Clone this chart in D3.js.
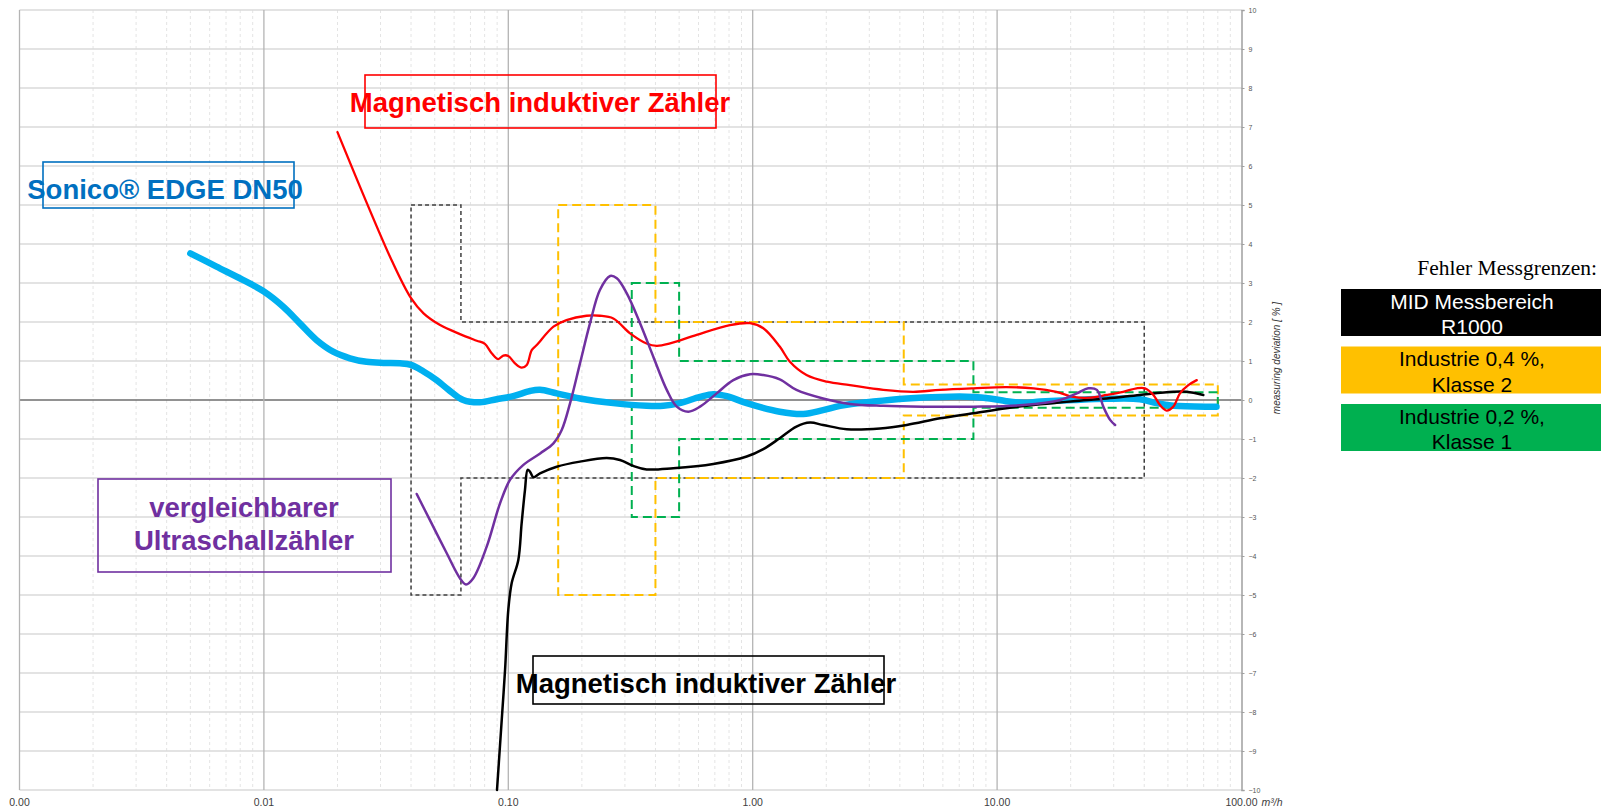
<!DOCTYPE html>
<html>
<head>
<meta charset="utf-8">
<script src="https://cdn.jsdelivr.net/npm/d3@7"></script>
<style>
  body { margin: 0; background: #fff; }
  svg { display: block; font-family: "Liberation Sans", Arial, sans-serif; }
</style>
</head>
<body>
<div id="chart"></div>
<script>
// ---------------------------------------------------------------------------
// data: flow [m3/h], measuring deviation [%]

var flowTicks = [0.001, 0.01, 0.1, 1, 10, 100];
var devTicks = d3.range(-10, 11);

var sonico = [[0.005,3.76],[0.0064,3.42],[0.0082,3.08],[0.01,2.78],[0.012,2.39],[0.014,1.97],
  [0.0164,1.54],[0.0192,1.24],[0.0225,1.07],[0.0263,0.98],[0.0308,0.95],[0.036,0.94],[0.04,0.90],
  [0.045,0.73],[0.0509,0.51],[0.057,0.26],[0.0654,0.0],[0.0766,-0.06],[0.0896,0.02],[0.1048,0.10],
  [0.1227,0.23],[0.1348,0.26],[0.1578,0.17],[0.1965,0.04],[0.269,-0.08],[0.368,-0.15],[0.431,-0.15],
  [0.503,-0.08],[0.609,0.08],[0.69,0.15],[0.783,0.10],[0.945,-0.08],[1.29,-0.30],[1.61,-0.36],
  [1.94,-0.26],[2.28,-0.15],[3.12,-0.04],[4.27,0.04],[5.84,0.08],[8.0,0.08],[9.35,0.04],[10.9,-0.03],
  [12.8,-0.07],[15.0,-0.04],[20.5,0],[28.1,0.03],[38.4,0.02],[45,-0.08],[52.6,-0.15],[79,-0.17]];

var midRed = [[0.02,6.87],[0.0335,3.55],[0.04,2.61],[0.045,2.22],[0.0526,1.92],
  [0.0634,1.69],[0.0743,1.52],[0.0802,1.44],[0.0855,1.20],[0.091,1.05],[0.0954,1.14],[0.1,1.13],
  [0.1065,0.94],[0.1134,0.83],[0.119,0.90],[0.1247,1.28],[0.1307,1.41],[0.153,1.88],[0.173,2.05],
  [0.209,2.16],[0.237,2.16],[0.269,2.09],[0.315,1.71],[0.368,1.45],[0.405,1.39],[0.459,1.45],
  [0.59,1.67],[0.807,1.92],[0.975,1.97],[1.105,1.84],[1.29,1.37],[1.42,0.98],[1.66,0.64],[2.01,0.47],
  [2.5,0.38],[3.42,0.26],[4.54,0.21],[5.84,0.26],[8.0,0.30],[10.9,0.33],[14.1,0.30],[17.5,0.21],
  [20.5,0.08],[24,0.06],[28.1,0.13],[32.8,0.21],[37.2,0.30],[40.3,0.30],[43.6,0.13],[46.4,-0.13],
  [49.4,-0.27],[52.6,-0.17],[56,0.17],[60.6,0.38],[65.6,0.51]];

var ultraschall = [[0.0422,-2.41],[0.0478,-3.08],[0.056,-3.93],[0.0634,-4.57],[0.0671,-4.73],
  [0.0719,-4.57],[0.0816,-3.76],[0.0925,-2.65],[0.1016,-2.05],[0.115,-1.67],[0.135,-1.37],[0.153,-1.11],
  [0.1654,-0.77],[0.179,-0.08],[0.1965,0.94],[0.216,1.97],[0.237,2.82],[0.261,3.18],[0.278,3.12],
  [0.305,2.74],[0.346,1.97],[0.392,1.11],[0.445,0.26],[0.489,-0.17],[0.545,-0.30],[0.609,-0.17],
  [0.712,0.17],[0.833,0.51],[0.975,0.66],[1.105,0.64],[1.29,0.53],[1.51,0.26],[1.94,0.04],[2.5,-0.10],
  [3.42,-0.15],[4.99,-0.17],[8.0,-0.17],[12.8,-0.13],[18.1,0],[21.2,0.17],[23.6,0.30],[25.6,0.26],
  [27.2,-0.17],[29,-0.51],[30.4,-0.64]];

var midBlack = [[0.0899,-10],[0.094,-8.2],[0.097,-6.92],[0.1,-5.38],[0.1032,-4.70],[0.1099,-4.10],
  [0.1134,-3.16],[0.117,-2.31],[0.12,-1.79],[0.1227,-1.84],[0.1266,-1.98],[0.1348,-1.88],[0.1578,-1.71],
  [0.1965,-1.58],[0.2527,-1.49],[0.2864,-1.54],[0.3247,-1.69],[0.368,-1.78],[0.473,-1.75],[0.69,-1.64],
  [0.945,-1.45],[1.105,-1.26],[1.29,-0.98],[1.51,-0.68],[1.716,-0.58],[1.94,-0.64],[2.425,-0.75],
  [3.32,-0.73],[4.27,-0.64],[5.84,-0.47],[8.0,-0.34],[10.9,-0.21],[15.0,-0.11],[20.5,-0.03],
  [28.1,0.04],[38.4,0.13],[52.6,0.21],[59.7,0.21],[69.8,0.13]];

// error limit envelopes
var limitMid = [[0.04,5],[0.064,5],[0.064,2],[40,2],[40,-2],[0.064,-2],[0.064,-5],[0.04,-5]];
var limitKl2 = [[0.16,5],[0.4,5],[0.4,2],[4.15,2],[4.15,0.4],[80,0.4],[80,-0.4],[4.15,-0.4],
  [4.15,-2],[0.4,-2],[0.4,-5],[0.16,-5]];
var limitKl1 = [[0.32,3],[0.5,3],[0.5,1],[8,1],[8,0.2],[80,0.2],[80,-0.2],[8,-0.2],[8,-1],
  [0.5,-1],[0.5,-3],[0.32,-3]];

var legendItems = [
  {lines: ["MID Messbereich", "R1000"], fill: "#000000", text: "#ffffff"},
  {lines: ["Industrie 0,4 %,", "Klasse 2"], fill: "#FFC000", text: "#000000"},
  {lines: ["Industrie 0,2 %,", "Klasse 1"], fill: "#00B050", text: "#000000"}
];

// ---------------------------------------------------------------------------
// scales

var xScale = d3.scaleLog().domain([0.001, 100]).range([19.5, 1241.5]);
var yScale = d3.scaleLinear().domain([-10, 10]).range([790, 10]);

var svg = d3.select("#chart").append("svg")
    .attr("width", 1601)
    .attr("height", 811);

svg.append("rect").attr("width", 1601).attr("height", 811).attr("fill", "#fff");

var grid = svg.append("g");

// minor vertical gridlines (2..9 of every decade)
var minor = [];
flowTicks.slice(0, -1).forEach(function(t) {
    for (var k = 2; k <= 9; k++) minor.push(t * k);
});
grid.selectAll(".minor").data(minor).enter().append("line")
    .attr("x1", function(d) { return xScale(d); })
    .attr("x2", function(d) { return xScale(d); })
    .attr("y1", yScale(10)).attr("y2", yScale(-10))
    .attr("stroke", "#e4e4e4").attr("stroke-width", 1)
    .attr("stroke-dasharray", "3,3");

// horizontal gridlines
grid.selectAll(".hgrid").data(devTicks).enter().append("line")
    .attr("x1", xScale(0.001)).attr("x2", xScale(100))
    .attr("y1", function(d) { return yScale(d); })
    .attr("y2", function(d) { return yScale(d); })
    .attr("stroke", function(d) { return d === 0 ? "#6e6e6e" : "#dadada"; })
    .attr("stroke-width", 1.5);

// major vertical gridlines
grid.selectAll(".major").data(flowTicks.slice(0, -1)).enter().append("line")
    .attr("x1", function(d) { return xScale(d); })
    .attr("x2", function(d) { return xScale(d); })
    .attr("y1", yScale(10)).attr("y2", yScale(-10))
    .attr("stroke", "#b4b4b4").attr("stroke-width", 1.3);

// right axis
var yAxis = d3.axisRight(yScale).tickValues(devTicks).tickSize(3).tickPadding(4)
    .tickFormat(d3.format("d"));
var yAxisG = svg.append("g")
    .attr("transform", "translate(" + xScale(100) + ",0)")
    .call(yAxis);
yAxisG.select(".domain").attr("stroke", "#a0a0a0").attr("stroke-width", 1.5);
yAxisG.selectAll(".tick line").attr("stroke", "#a0a0a0");
yAxisG.selectAll(".tick text").attr("font-size", 7).attr("fill", "#555")
    .attr("font-family", "Liberation Sans, Arial, sans-serif");

svg.append("text")
    .attr("transform", "translate(1280,358) rotate(-90)")
    .attr("text-anchor", "middle")
    .attr("font-size", 10).attr("font-style", "italic").attr("fill", "#333")
    .text("measuring deviation  [ % ]");

// bottom tick labels
svg.selectAll(".xlab").data(flowTicks).enter().append("text")
    .attr("x", function(d) { return xScale(d); })
    .attr("y", 806)
    .attr("text-anchor", "middle")
    .attr("font-size", 10.5).attr("fill", "#404040")
    .text(function(d) { return d3.format(".2f")(d); });
svg.append("text")
    .attr("x", xScale(100) + 20).attr("y", 806)
    .attr("font-size", 10.5).attr("font-style", "italic").attr("fill", "#404040")
    .text("m³/h");

// ---------------------------------------------------------------------------
// limit envelopes

var envelope = d3.line()
    .x(function(d) { return xScale(d[0]); })
    .y(function(d) { return yScale(d[1]); });

function drawLimit(pts, color, width, dash) {
    svg.append("path")
        .attr("d", envelope(pts) + "Z")
        .attr("fill", "none")
        .attr("stroke", color)
        .attr("stroke-width", width)
        .attr("stroke-dasharray", dash);
}
drawLimit(limitMid, "#404040", 1.5, "4,3");
drawLimit(limitKl2, "#FFC000", 2, "9,5");
drawLimit(limitKl1, "#00B050", 2, "9,5");

// ---------------------------------------------------------------------------
// curves

var curve = d3.line()
    .x(function(d) { return xScale(d[0]); })
    .y(function(d) { return yScale(d[1]); })
    .curve(d3.curveCatmullRom.alpha(0.5));

function drawCurve(data, color, width) {
    svg.append("path")
        .attr("d", curve(data))
        .attr("fill", "none")
        .attr("stroke", color)
        .attr("stroke-width", width)
        .attr("stroke-linecap", "round")
        .attr("stroke-linejoin", "round");
}
drawCurve(sonico, "#00B0F0", 6.5);
drawCurve(midBlack, "#000000", 2.5);
drawCurve(midRed, "#FF0000", 2.3);
drawCurve(ultraschall, "#7030A0", 2.5);

// ---------------------------------------------------------------------------
// annotation boxes

function note(box, color, lines, cx, baseline, lh) {
    svg.append("rect")
        .attr("x", box[0]).attr("y", box[1])
        .attr("width", box[2] - box[0]).attr("height", box[3] - box[1])
        .attr("fill", "none").attr("stroke", color).attr("stroke-width", 1.6);
    var t = svg.append("text")
        .attr("text-anchor", "middle")
        .attr("font-size", 27.5).attr("font-weight", "bold").attr("fill", color);
    lines.forEach(function(l, i) {
        t.append("tspan").attr("x", cx).attr("y", baseline + i * lh).text(l);
    });
}
note([365, 75, 716, 128], "#FF0000", ["Magnetisch induktiver Zähler"], 540, 112, 0);
note([43, 162, 294, 208], "#0070C0", ["Sonico® EDGE DN50"], 165, 199, 0);
note([98, 479, 391, 572], "#7030A0", ["vergleichbarer", "Ultraschallzähler"], 244, 517, 32.6);
note([533, 656, 884, 704], "#000000", ["Magnetisch induktiver Zähler"], 706, 693, 0);

// ---------------------------------------------------------------------------
// legend

svg.append("text")
    .attr("x", 1597).attr("y", 275)
    .attr("text-anchor", "end")
    .attr("font-family", "Liberation Serif, Times New Roman, serif")
    .attr("font-size", 21.5).attr("fill", "#000")
    .text("Fehler Messgrenzen:");

var leg = svg.selectAll(".leg").data(legendItems).enter().append("g")
    .attr("transform", function(d, i) { return "translate(1341," + (289 + i * 57.5) + ")"; });
leg.append("rect")
    .attr("width", 260).attr("height", 47)
    .attr("fill", function(d) { return d.fill; });
leg.each(function(d) {
    var t = d3.select(this).append("text")
        .attr("text-anchor", "middle")
        .attr("font-size", 21).attr("fill", d.text);
    d.lines.forEach(function(l, i) {
        t.append("tspan").attr("x", 131).attr("y", 19.5 + i * 25.8).text(l);
    });
});
</script>
</body>
</html>
